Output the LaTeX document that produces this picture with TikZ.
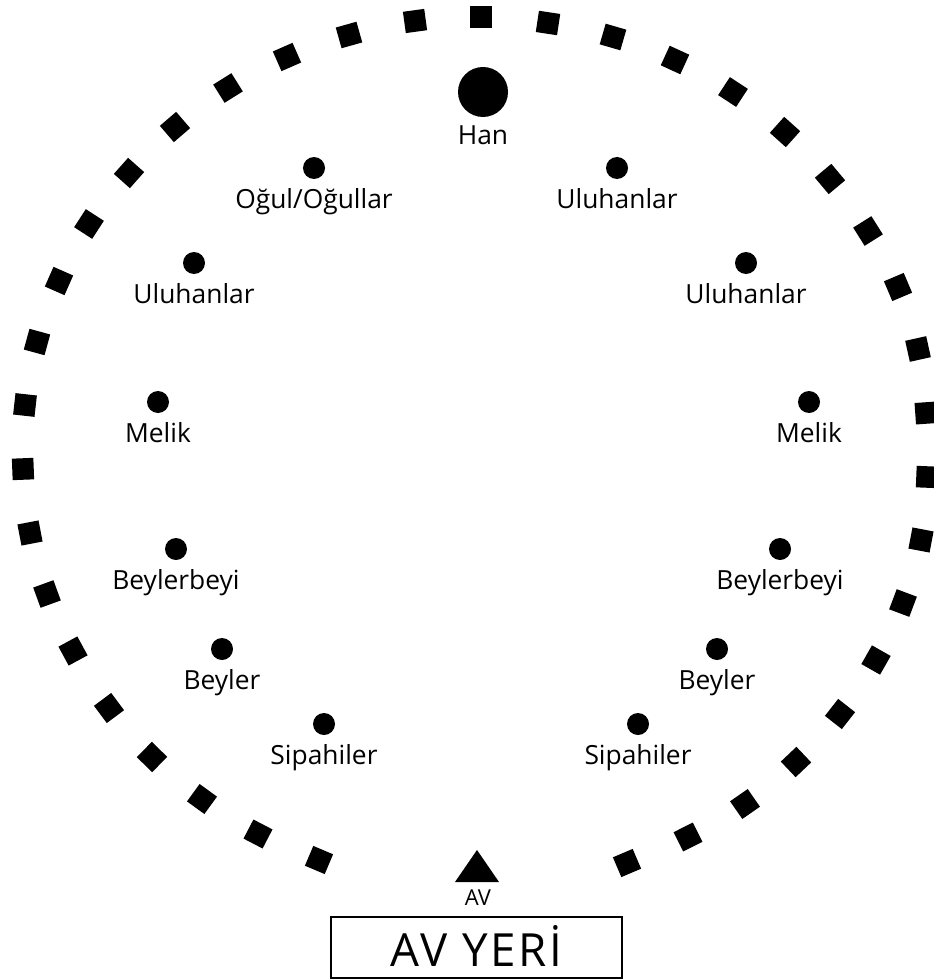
\documentclass[tikz,border=0pt]{standalone}
\usepackage{fontspec}
\setmainfont{Open Sans}
\usepackage{tikz}
\usetikzlibrary{positioning}

\begin{document}
\begin{tikzpicture}[x=0.2mm,y=-0.2mm,
  sq/.style={fill=black,minimum size=4.3mm,inner sep=0pt,outer sep=0pt},
  dot/.style={circle,fill=black,minimum size=4.4mm,inner sep=0pt},
  bigdot/.style={dot,minimum size=10mm},
  lbl/.style={inner sep=0pt,font=\fontsize{15}{18}\selectfont},
  yerbox/.style={draw,line width=0.4mm,minimum width=58.2mm,minimum
  height=12.2mm,inner sep=0pt,text height=7.4mm,text depth=0pt,
  font=\fontsize{26}{30}\selectfont\addfontfeatures{LetterSpace=6}}]
\useasboundingbox (0,0) rectangle (934,980);
\foreach \x/\y/\a in {319/860/-23,258/834/-27.5,202/799/-36,152/757/-44.4,
  109/708/-53.3,73/651/-61.5,47/594/-70,30/533/-79.1,23/469/-87.8,
  25/405/-96.3,37/342/-105.3,59/281/-113.8,89/224/-122.9,129/173/-131.6,
  175/127/-139.3,228/88/-148,287/57/-156.3,349/35/-164.3,415/21/-172.2,
  481/17/180,548/23/171.4,613/37/163.8,675/60/155.4,733/92/146.8,
  785/132/138.1,830/179/130,868/231/122.2,898/287/113,918/349/102.5,
  926/413/94,927/477/87.7,921/540/79.2,903/603/69.4,876/660/60.4,
  840/714/51.9,796/762/43.5,745/804/34.8,688/837/26.6,627/863/23.1}
  \node[sq,rotate=\a] at (\x,\y) {};
\node[bigdot] (han) at (483,92) {};
\node[dot] (ogul) at (314,168) {}; \node[dot] (uluA) at (617,168) {};
\node[dot] (uluB) at (194,263) {}; \node[dot] (uluC) at (746,263) {};
\node[dot] (melikL) at (158,402) {}; \node[dot] (melikR) at (809,402) {};
\node[dot] (bbeyiL) at (176,549) {}; \node[dot] (bbeyiR) at (780,549) {};
\node[dot] (beyL) at (222,649) {}; \node[dot] (beyR) at (717,649) {};
\node[dot] (sipL) at (324,724) {}; \node[dot] (sipR) at (638,724) {};
\node[lbl,below=1.6mm of han] {Han};
\node[lbl,below=1.8mm of ogul] {Oğul/Oğullar};
\node[lbl,below=1.8mm of uluA] {Uluhanlar};
\node[lbl,below=1.8mm of uluB] {Uluhanlar};
\node[lbl,below=1.8mm of uluC] {Uluhanlar};
\node[lbl,below=1.8mm of melikL] {Melik};
\node[lbl,below=1.8mm of melikR] {Melik};
\node[lbl,below=1.8mm of bbeyiL] {Beylerbeyi};
\node[lbl,below=1.8mm of bbeyiR] {Beylerbeyi};
\node[lbl,below=1.8mm of beyL] {Beyler};
\node[lbl,below=1.8mm of beyR] {Beyler};
\node[lbl,below=1.8mm of sipL] {Sipahiler};
\node[lbl,below=1.8mm of sipR] {Sipahiler};
\coordinate (avtip) at (477,850);
\fill (avtip) -- ++(-22,32) -- ++(44,0) -- cycle;
\node[lbl,font=\fontsize{12.5}{14}\selectfont] (av) at (478,898) {AV};
\node[yerbox] (yeri) at (476.5,947.5) {AV YERİ};
\end{tikzpicture}
\end{document}
